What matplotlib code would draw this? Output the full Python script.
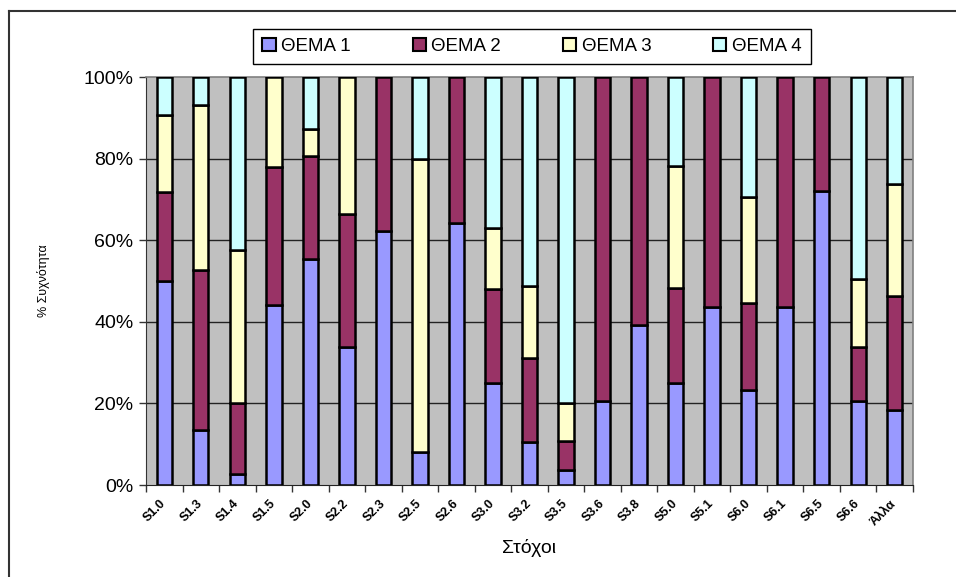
import matplotlib
matplotlib.use('Agg')
import matplotlib.pyplot as plt
from matplotlib.patches import Patch
import numpy as np

plt.rcParams['font.family'] = ['Liberation Sans', 'DejaVu Sans']

# percentage of answers per goal, split by theme
goals = ['S1.0', 'S1.3', 'S1.4', 'S1.5', 'S2.0', 'S2.2', 'S2.3', 'S2.5', 'S2.6', 'S3.0',
         'S3.2', 'S3.5', 'S3.6', 'S3.8', 'S5.0', 'S5.1', 'S6.0', 'S6.1', 'S6.5', 'S6.6', 'Άλλα']
thema1 = [50.0, 13.6, 2.6, 44.1, 55.3, 33.9, 62.3, 8.2, 64.3, 25.1,
          10.6, 3.7, 20.6, 39.3, 25.1, 43.7, 23.4, 43.7, 72.1, 20.7, 18.4]
thema2 = [21.7, 39.2, 17.6, 33.9, 25.3, 32.4, 37.7, 0.0, 35.7, 23.0,
          20.6, 7.2, 79.4, 60.7, 23.2, 56.3, 21.3, 56.3, 27.9, 13.2, 28.0]
thema3 = [18.9, 40.4, 37.4, 22.0, 6.6, 33.7, 0.0, 71.8, 0.0, 14.8,
          17.5, 9.1, 0.0, 0.0, 29.9, 0.0, 25.9, 0.0, 0.0, 16.7, 27.3]
thema4 = [9.4, 6.8, 42.4, 0.0, 12.8, 0.0, 0.0, 20.0, 0.0, 37.1,
          51.3, 80.0, 0.0, 0.0, 21.8, 0.0, 29.4, 0.0, 0.0, 49.4, 26.3]

series = [thema1, thema2, thema3, thema4]
names = ['ΘΕΜΑ 1', 'ΘΕΜΑ 2', 'ΘΕΜΑ 3', 'ΘΕΜΑ 4']
colors = ['#9999FF', '#993366', '#FFFFCC', '#CCFFFF']

fig = plt.figure(figsize=(9.56, 5.77), dpi=100)
ax = fig.add_axes([146 / 956, 1 - 485 / 577, 767 / 956, 408 / 577])
ax.set_facecolor('#C0C0C0')

x = np.arange(len(goals))
total = np.array([sum(s[i] for s in series) for i in range(len(goals))])
bottom = np.zeros(len(goals))
for vals, c in zip(series, colors):
    frac = np.array(vals) / total
    mask = frac > 0
    ax.bar(x[mask], frac[mask], 0.42, bottom=bottom[mask], color=c,
           edgecolor='black', linewidth=1.8, zorder=3)
    bottom += frac

ax.set_xlim(-0.5, len(goals) - 0.5)
ax.set_ylim(0, 1)

# y axis: percentages with grid lines
ax.set_yticks(np.arange(0, 1.01, 0.2))
ax.set_yticklabels(['%d%%' % v for v in range(0, 101, 20)], fontsize=14)
for v in [0.2, 0.4, 0.6, 0.8]:
    ax.axhline(v, color='#222222', linewidth=1.0, zorder=1)
ax.tick_params(axis='y', direction='out', length=5, width=1, color='#333333', pad=4)

# x axis: ticks between categories, labels at centres
ax.set_xticks(np.arange(-0.5, len(goals) + 0.5, 1))
ax.set_xticklabels([])
ax.tick_params(axis='x', which='major', direction='out', length=5, width=1, color='#333333')
ax.set_xticks(x, minor=True)
ax.set_xticklabels(goals, minor=True, rotation=45, ha='right', va='center',
                   rotation_mode='anchor', fontsize=9, fontweight='bold')
ax.tick_params(axis='x', which='minor', length=0, pad=12)

for side in ['top', 'right']:
    ax.spines[side].set_color('#808080')
    ax.spines[side].set_linewidth(1.2)
ax.spines['left'].set_color('#333333')
ax.spines['bottom'].set_color('#222222')

ax.set_ylabel('% Συχνότητα', fontsize=9, labelpad=24)
ax.set_xlabel('Στόχοι', fontsize=14, labelpad=8)

handles = [Patch(facecolor=c, edgecolor='black', linewidth=1.5) for c in colors]
fig.legend(handles, names, loc='center', ncol=4, mode='expand',
           bbox_to_anchor=(253 / 956, 1 - 63 / 577, 558 / 956, 33 / 577),
           fontsize=13.5, handlelength=0.7, handleheight=0.7, handletextpad=0.3,
           fancybox=False, edgecolor='black', framealpha=1, borderaxespad=0,
           borderpad=0.5)

# chart border
fig.add_artist(plt.Line2D([9 / 956, 9 / 956], [0, 1 - 11 / 577], color='#333333', linewidth=1.5))
fig.add_artist(plt.Line2D([9 / 956, 1], [1 - 11 / 577, 1 - 11 / 577], color='#333333', linewidth=1.5))

fig.savefig('out.png', dpi=100)
